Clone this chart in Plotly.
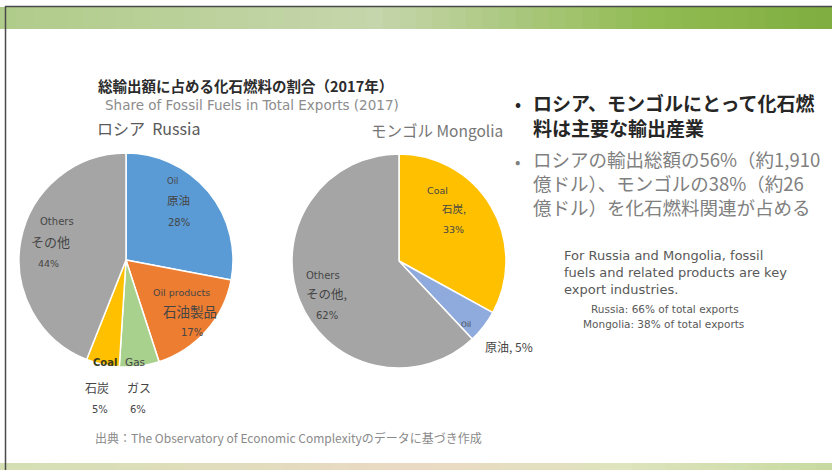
import plotly.graph_objects as go

# ---- data ----
russia_labels_en = ["Oil", "Oil products", "Gas", "Coal", "Others"]
russia_labels_ja = ["原油", "石油製品", "ガス", "石炭", "その他"]
russia_values = [28, 17, 6, 5, 44]
russia_colors = ["#5B9BD5", "#ED7D31", "#A9D18E", "#FFC000", "#A5A5A5"]

mongolia_labels_en = ["Coal", "Oil", "Others"]
mongolia_labels_ja = ["石炭", "原油", "その他"]
mongolia_values = [33, 5, 62]
mongolia_colors = ["#FFC000", "#8FAADC", "#A5A5A5"]

W, H = 832, 470
JA = "Noto Sans CJK JP"
EN = "DejaVu Sans"


def px(x):
    return x / W


def py(y):
    return 1 - y / H


fig = go.Figure()

fig.add_trace(go.Pie(
    labels=russia_labels_en, values=russia_values, sort=False, direction="clockwise",
    rotation=0, marker=dict(colors=russia_colors, line=dict(color="white", width=1.5)),
    textinfo="none", hoverinfo="label+percent", showlegend=False,
    domain=dict(x=[px(19), px(233)], y=[py(367), py(153)])))

fig.add_trace(go.Pie(
    labels=mongolia_labels_en, values=mongolia_values, sort=False, direction="clockwise",
    rotation=0, marker=dict(colors=mongolia_colors, line=dict(color="white", width=1.5)),
    textinfo="none", hoverinfo="label+percent", showlegend=False,
    domain=dict(x=[px(292), px(506)], y=[py(368), py(154)])))

ann = []


def txt(x, y, s, size=11, color="#404040", bold=False, anchor="left", family=JA, align="left"):
    if bold:
        s = "<b>" + s + "</b>"
    ann.append(dict(x=px(x), y=py(y), xref="paper", yref="paper", text=s, showarrow=False,
                    xanchor=anchor, yanchor="middle", align=align, borderpad=0,
                    font=dict(family=family, size=size, color=color)))


LC = "#454545"

# titles
txt(245, 85.5, "総輸出額に占める化石燃料の割合（2017年）", 14.5, "#2b2b2b", True, "center")
txt(252, 105, "Share of Fossil Fuels in Total Exports (2017)", 13.5, "#8c8c8c", False, "center", EN)
txt(96, 128, "ロシア  Russia", 16, "#595959")
txt(370, 130, "モンゴル Mongolia", 15.5, "#767676")

# Russia slice labels
# Oil
txt(172, 181, russia_labels_en[0], 8.5, LC, False, "center", EN)
txt(178, 200, russia_labels_ja[0], 11.5, LC, False, "center")
txt(179, 222, f"{russia_values[0]}%", 10, LC, False, "center", EN)
# Oil products
txt(181, 292, russia_labels_en[1], 9.5, LC, False, "center", EN)
txt(190, 311, russia_labels_ja[1], 13.5, LC, False, "center")
txt(192, 332, f"{russia_values[1]}%", 10, LC, False, "center", EN)
# Others
txt(57, 221, russia_labels_en[4], 10, LC, False, "center", EN)
txt(50, 242, russia_labels_ja[4], 13, LC, False, "center")
txt(48, 263, f"{russia_values[4]}%", 9.5, LC, False, "center", EN)
# Coal
txt(105, 362, russia_labels_en[3], 10, "#3a3a1a", True, "center", EN)
txt(97, 387, russia_labels_ja[3], 12, LC, False, "center")
txt(100, 409, f"{russia_values[3]}%", 10, LC, False, "center", EN)
# Gas
txt(135, 362, russia_labels_en[2], 10.5, LC, False, "center", EN)
txt(139, 387, russia_labels_ja[2], 12, LC, False, "center")
txt(138, 409, f"{russia_values[2]}%", 10, LC, False, "center", EN)

# Mongolia slice labels
txt(437, 190, mongolia_labels_en[0], 9.5, LC, False, "center", EN)
txt(454, 208, mongolia_labels_ja[0] + ",", 10.5, LC, False, "center")
txt(454, 229, f"{mongolia_values[0]}%", 9.5, LC, False, "center", EN)
txt(466, 324, mongolia_labels_en[1], 7.5, LC, False, "center", EN)
txt(484, 346, f"{mongolia_labels_ja[1]}, {mongolia_values[1]}%", 12, LC)
txt(323, 275, mongolia_labels_en[2], 10, LC, False, "center", EN)
txt(326, 293, mongolia_labels_ja[2] + ",", 12.5, LC, False, "center")
txt(327, 315, f"{mongolia_values[2]}%", 10, LC, False, "center", EN)

# right text
txt(514, 103, "•", 16, "#262626", True)
txt(532, 114.5, "ロシア、モンゴルにとって化石燃<br>料は主要な輸出産業", 19, "#262626", True)
txt(514, 161, "•", 16, "#808080")
txt(532, 182.5, "ロシアの輸出総額の56%（約1,910<br>億ドル）、モンゴルの38%（約26<br>億ドル）を化石燃料関連が占める",
    18.5, "#808080")

txt(563, 272, "For Russia and Mongolia, fossil<br>fuels and related products are key<br>export industries.",
    13, "#595959", False, "left", EN)
txt(590, 309, "Russia: 66% of total exports", 10.5, "#595959", False, "left", EN)
txt(582, 324, "Mongolia: 38% of total exports", 10.5, "#595959", False, "left", EN)

txt(94, 437, "出典：The Observatory of Economic Complexityのデータに基づき作成", 12, "#8a8a8a")

# decorative bands
shapes = []


def lerp_stops(stops, t):
    for (t0, c0), (t1, c1) in zip(stops[:-1], stops[1:]):
        if t0 <= t <= t1:
            f = (t - t0) / (t1 - t0) if t1 > t0 else 0
            return tuple(int(c0[k] + (c1[k] - c0[k]) * f) for k in range(3))
    return stops[-1][1]


top_stops = [(0.0, (176, 204, 138)), (0.45, (198, 214, 172)), (0.78, (146, 188, 84)), (1.0, (128, 174, 64))]
bot_stops = [(0.0, (212, 224, 180)), (0.5, (236, 218, 196)), (0.75, (222, 228, 190)), (1.0, (200, 218, 160))]
n = 50
for i in range(n):
    t = (i + 0.5) / n
    c = lerp_stops(top_stops, t)
    shapes.append(dict(type="rect", xref="paper", yref="paper",
                       x0=i / n, x1=(i + 1) / n + 0.002, y0=py(29), y1=py(7),
                       fillcolor=f"rgb{c}", line=dict(width=0), layer="below"))
    cb = lerp_stops(bot_stops, t)
    shapes.append(dict(type="rect", xref="paper", yref="paper",
                       x0=i / n, x1=(i + 1) / n + 0.002, y0=0, y1=py(463),
                       fillcolor=f"rgb{cb}", line=dict(width=0), layer="below"))
shapes.append(dict(type="line", xref="paper", yref="paper", x0=px(5), x1=1, y0=py(6.5), y1=py(6.5),
                   line=dict(color="#4a4a4a", width=1.5)))
shapes.append(dict(type="line", xref="paper", yref="paper", x0=px(5.5), x1=px(5.5), y0=0, y1=py(6),
                   line=dict(color="#4a4a4a", width=1.5)))

fig.update_layout(
    width=W, height=H, margin=dict(l=0, r=0, t=0, b=0),
    paper_bgcolor="white", plot_bgcolor="white",
    annotations=ann, shapes=shapes,
    font=dict(family=JA),
)

fig.write_html("out.html", config={"displayModeBar": False},
               post_script="document.body.style.margin='0';")
